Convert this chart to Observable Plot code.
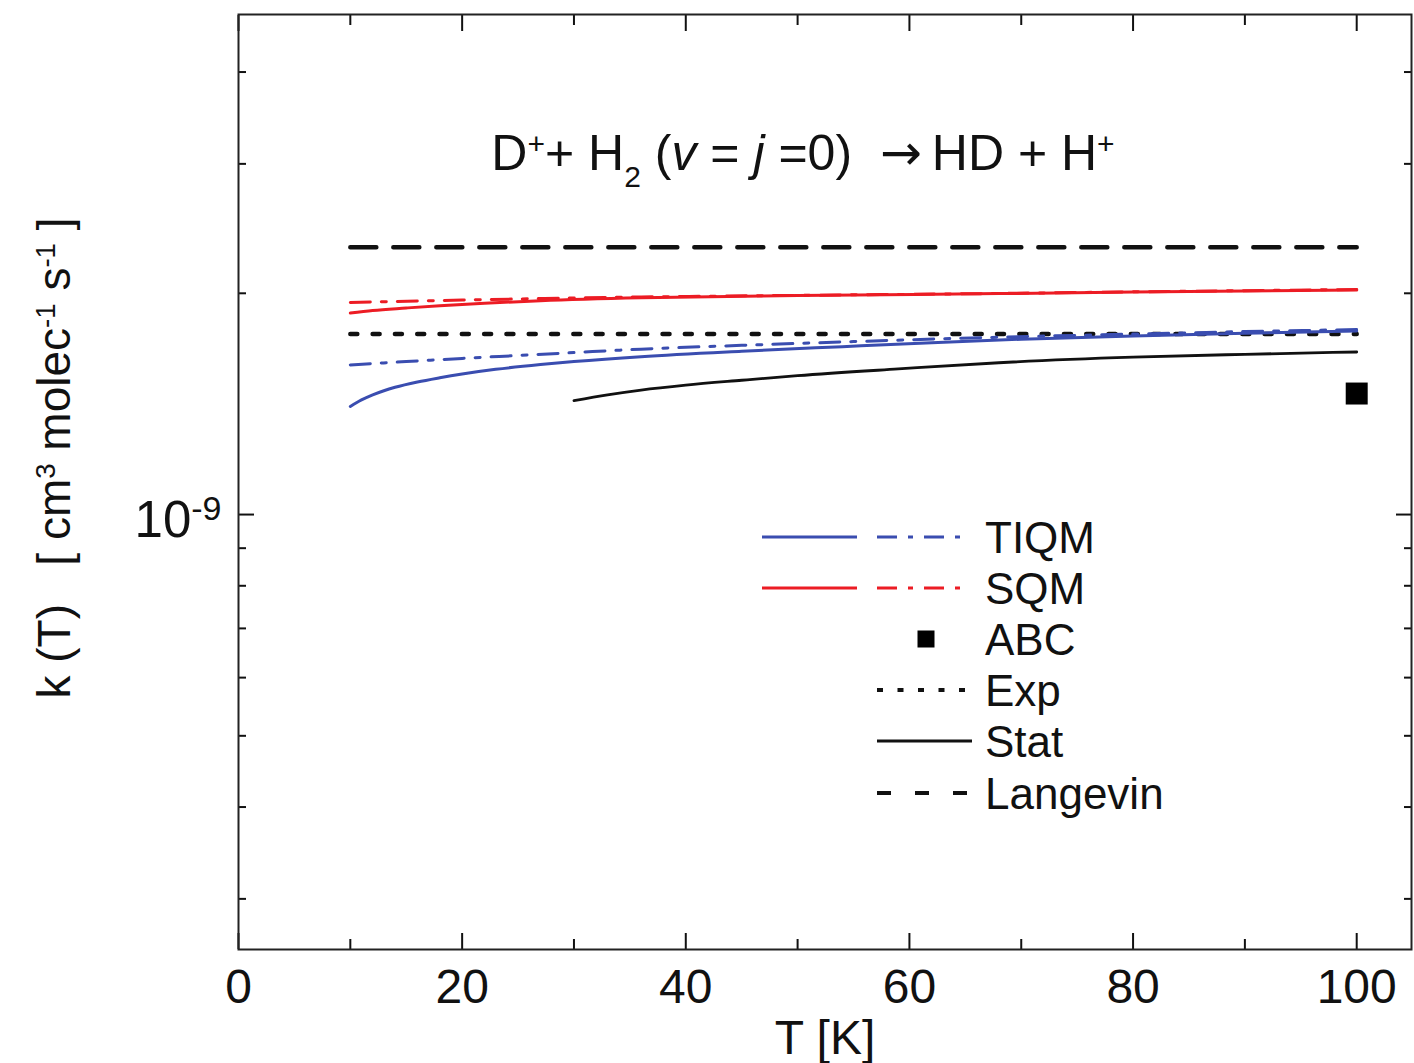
<!DOCTYPE html>
<html>
<head>
<meta charset="utf-8">
<script src="https://cdn.jsdelivr.net/npm/d3@7"></script>
<script src="https://cdn.jsdelivr.net/npm/@observablehq/plot@0.6"></script>
<style>
  html, body { margin: 0; padding: 0; background: #fff; }
  #wrap { position: relative; width: 1414px; height: 1063px; font-family: "Liberation Sans", Arial, sans-serif; }
  #overlay { position: absolute; left: 0; top: 0; pointer-events: none; }
</style>
</head>
<body>
<div id="wrap">
  <div id="chart"></div>
  <svg id="overlay" width="1414" height="1063"></svg>
</div>
<script>
// Rate constants k(T) for D+ + H2(v=0, j=0) -> HD + H+, in cm^3 molec^-1 s^-1

// TIQM, solid
const tiqmT = [10, 11, 12, 13, 14, 16, 18, 20, 23, 27, 30, 36, 45, 54, 62, 70, 80, 90, 100];
const tiqmK = [1.403e-9, 1.432e-9, 1.455e-9, 1.474e-9, 1.490e-9, 1.515e-9, 1.535e-9, 1.553e-9, 1.576e-9,
               1.600e-9, 1.615e-9, 1.640e-9, 1.668e-9, 1.692e-9, 1.713e-9, 1.732e-9, 1.750e-9, 1.764e-9, 1.777e-9];
// TIQM, dash-dot
const tiqmAltT = [10, 15, 20, 25, 30, 36, 45, 55, 68, 80, 90, 100];
const tiqmAltK = [1.598e-9, 1.615e-9, 1.631e-9, 1.646e-9, 1.661e-9, 1.679e-9, 1.699e-9, 1.719e-9,
                  1.743e-9, 1.760e-9, 1.774e-9, 1.785e-9];
// SQM, solid
const sqmT = [10, 12, 15, 18, 22, 27, 36, 50, 68, 80, 100];
const sqmK = [1.880e-9, 1.895e-9, 1.910e-9, 1.924e-9, 1.939e-9, 1.954e-9, 1.972e-9, 1.986e-9,
              1.998e-9, 2.008e-9, 2.020e-9];
// SQM, dash-dot
const sqmAltT = [10, 20, 36, 50, 68, 80, 100];
const sqmAltK = [1.943e-9, 1.958e-9, 1.977e-9, 1.987e-9, 1.999e-9, 2.009e-9, 2.024e-9];
// Statistical model
const statT = [30, 33, 36, 40, 45, 50, 59, 68, 80, 90, 100];
const statK = [1.429e-9, 1.455e-9, 1.477e-9, 1.500e-9, 1.523e-9, 1.545e-9, 1.578e-9, 1.609e-9,
               1.637e-9, 1.652e-9, 1.664e-9];
// Experiment and Langevin capture
const expT = [10, 100];
const expK = [1.76e-9, 1.76e-9];
const langT = [10, 100];
const langK = [2.31e-9, 2.31e-9];
// ABC exact quantum result
const abcT = [100];
const abcK = [1.461e-9];

// Axis ticks
const xMajor = [0, 20, 40, 60, 80, 100];
const xMinor = [10, 30, 50, 70, 90];
const yMajor = [1e-9];
const yMinor = [3e-10, 4e-10, 5e-10, 6e-10, 7e-10, 8e-10, 9e-10, 2e-9, 3e-9, 4e-9];

const BLUE = "#3a4db0";
const RED = "#ec1c24";
const INK = "#111";
const DASHDOT = "20,11,5,11";
const DOTS = "7,15.3";
const DASHES = "26,17";

const rows = (T, K) => T.map((t, i) => ({T: t, k: K[i]}));

const chart = Plot.plot({
  width: 1414,
  height: 1063,
  marginLeft: 238,
  marginRight: 3,
  marginTop: 14,
  marginBottom: 114,
  style: {fontFamily: "'Liberation Sans', Arial, sans-serif", fontSize: "48px", color: INK, background: "#fff"},
  x: {domain: [0, 104.9]},
  y: {type: "log", domain: [2.56e-10, 4.79e-9]},
  marks: [
    // inward tick marks on all four sides
    Plot.axisX({anchor: "bottom", ticks: xMajor, tickSize: -16, strokeWidth: 2, tickFormat: () => "", label: null}),
    Plot.axisX({anchor: "bottom", ticks: xMinor, tickSize: -10, strokeWidth: 2, tickFormat: () => "", label: null}),
    Plot.axisX({anchor: "top", ticks: xMajor, tickSize: -16, strokeWidth: 2, tickFormat: () => "", label: null}),
    Plot.axisX({anchor: "top", ticks: xMinor, tickSize: -10, strokeWidth: 2, tickFormat: () => "", label: null}),
    Plot.axisY({anchor: "left", ticks: yMajor, tickSize: -16, strokeWidth: 2, tickFormat: () => "", label: null}),
    Plot.axisY({anchor: "left", ticks: yMinor, tickSize: -8, strokeWidth: 2, tickFormat: () => "", label: null}),
    Plot.axisY({anchor: "right", ticks: yMajor, tickSize: -16, strokeWidth: 2, tickFormat: () => "", label: null}),
    Plot.axisY({anchor: "right", ticks: yMinor, tickSize: -8, strokeWidth: 2, tickFormat: () => "", label: null}),
    // tick labels
    Plot.axisX({anchor: "bottom", ticks: xMajor, tickSize: 0, tickPadding: 19, fontSize: 48,
                label: "T [K]", labelAnchor: "center", labelArrow: "none", labelOffset: 104}),
    Plot.axisY({anchor: "left", ticks: yMajor, tickSize: 0, tickPadding: 17, fontSize: 51, dy: 6,
                tickFormat: () => "10^-9", label: null}),
    Plot.frame({stroke: "#222", strokeWidth: 2}),
    // reference levels
    Plot.line(rows(langT, langK), {x: "T", y: "k", stroke: INK, strokeWidth: 4.5, strokeDasharray: DASHES}),
    Plot.line(rows(expT, expK), {x: "T", y: "k", stroke: INK, strokeWidth: 4.5, strokeDasharray: DOTS}),
    // computed rate constants
    Plot.line(rows(sqmAltT, sqmAltK), {x: "T", y: "k", stroke: RED, strokeWidth: 3, strokeDasharray: DASHDOT, curve: "monotone-x"}),
    Plot.line(rows(sqmT, sqmK), {x: "T", y: "k", stroke: RED, strokeWidth: 3, curve: "monotone-x"}),
    Plot.line(rows(tiqmAltT, tiqmAltK), {x: "T", y: "k", stroke: BLUE, strokeWidth: 3, strokeDasharray: DASHDOT, curve: "monotone-x"}),
    Plot.line(rows(tiqmT, tiqmK), {x: "T", y: "k", stroke: BLUE, strokeWidth: 3, curve: "monotone-x"}),
    Plot.line(rows(statT, statK), {x: "T", y: "k", stroke: INK, strokeWidth: 2.8, curve: "monotone-x"}),
    Plot.dot(rows(abcT, abcK), {x: "T", y: "k", symbol: "square", r: 12.4, fill: "#000", stroke: "none"})
  ]
});
document.getElementById("chart").append(chart);

// Power-of-ten tick label: raise the exponent
chart.querySelectorAll('[aria-label="y-axis tick label"] text').forEach(t => {
  if (t.textContent === "10^-9") {
    t.textContent = "10";
    const sup = document.createElementNS("http://www.w3.org/2000/svg", "tspan");
    sup.setAttribute("dy", "-0.5em");
    sup.setAttribute("font-size", "34");
    sup.textContent = "-9";
    t.append(sup);
  }
});

// Title, y-axis label and legend
const ov = d3.select("#overlay").style("font-family", "'Liberation Sans', Arial, sans-serif").attr("fill", INK);

function richText(sel, parts) {
  parts.forEach(p => {
    const ts = sel.append("tspan").text(p.t);
    if (p.sup) ts.attr("baseline-shift", "super").attr("font-size", "60%");
    if (p.sub) ts.attr("baseline-shift", "sub").attr("font-size", "60%");
    if (p.it) ts.attr("font-style", "italic");
    if (p.size) ts.attr("font-size", p.size);
    if (p.family) ts.attr("font-family", p.family);
  });
}

const title = ov.append("text").attr("x", 803).attr("y", 170).attr("text-anchor", "middle").attr("font-size", 50)
  .attr("xml:space", "preserve");
richText(title, [
  {t: "D"}, {t: "+", sup: true}, {t: "+ H"}, {t: "2", sub: true}, {t: " ("}, {t: "v", it: true},
  {t: " = "}, {t: "j", it: true}, {t: " =0)  "}, {t: "\u2192", size: 50, family: "'DejaVu Sans'"}, {t: "\u2009HD + H"}, {t: "+", sup: true}
]);

const ylab = ov.append("text").attr("transform", "translate(70,458) rotate(-90)").attr("text-anchor", "middle")
  .attr("font-size", 46).attr("xml:space", "preserve");
richText(ylab, [
  {t: "k (T)   [ cm"}, {t: "3", sup: true}, {t: " molec"}, {t: "-1", sup: true}, {t: " s"}, {t: "-1", sup: true}, {t: " ]"}
]);

const legendRows = [
  {name: "TIQM", y: 537, samples: [{x1: 762, x2: 857, color: BLUE, w: 3, dash: null}, {x1: 877, x2: 963, color: BLUE, w: 3, dash: DASHDOT}]},
  {name: "SQM", y: 588, samples: [{x1: 762, x2: 857, color: RED, w: 3, dash: null}, {x1: 877, x2: 963, color: RED, w: 3, dash: DASHDOT}]},
  {name: "ABC", y: 639, square: {x: 926, size: 17}},
  {name: "Exp", y: 690, samples: [{x1: 877, x2: 972, color: INK, w: 4, dash: "6,14.5"}]},
  {name: "Stat", y: 741, samples: [{x1: 877, x2: 972, color: INK, w: 2.8, dash: null}]},
  {name: "Langevin", y: 793, samples: [{x1: 877, x2: 972, color: INK, w: 4, dash: "14,24"}]}
];
legendRows.forEach(r => {
  (r.samples || []).forEach(s => {
    const l = ov.append("line").attr("x1", s.x1).attr("x2", s.x2).attr("y1", r.y).attr("y2", r.y)
      .attr("stroke", s.color).attr("stroke-width", s.w);
    if (s.dash) l.attr("stroke-dasharray", s.dash);
  });
  if (r.square) {
    ov.append("rect").attr("x", r.square.x - r.square.size / 2).attr("y", r.y - r.square.size / 2)
      .attr("width", r.square.size).attr("height", r.square.size).attr("fill", "#000");
  }
  ov.append("text").attr("x", 985).attr("y", r.y + 16).attr("font-size", 44).text(r.name);
});
</script>
</body>
</html>
